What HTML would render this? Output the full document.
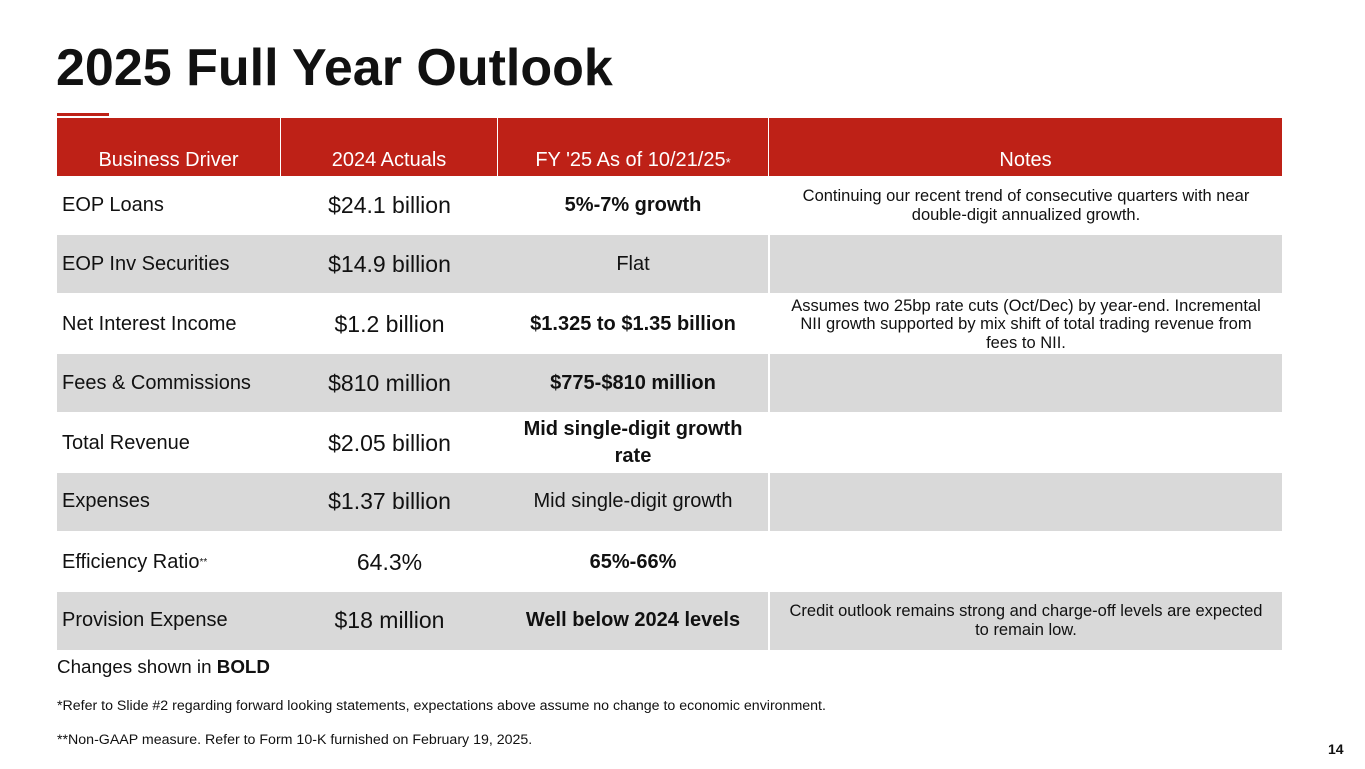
<!DOCTYPE html>
<html><head><meta charset="utf-8"><style>
body{margin:0;width:1365px;height:769px;background:#fff;font-family:"Liberation Sans",sans-serif;position:relative;overflow:hidden;color:#111}
.a{position:absolute;box-sizing:border-box}
.c{position:absolute;box-sizing:border-box;display:flex;align-items:center;text-align:center;justify-content:center}
.h{background:#be2117;color:#fff;font-size:20px;align-items:flex-end;padding-bottom:4px}
</style></head><body>
<div class="a" style="left:56px;top:38px;font-size:52px;font-weight:bold;color:#111">2025 Full Year Outlook</div>
<div class="a" style="left:57px;top:113px;width:52px;height:3px;background:#be2117"></div>
<div id="tbl"></div>
<div class="a" style="left:57px;top:656px;font-size:18.8px">Changes shown in <b>BOLD</b></div>
<div class="a" style="left:57px;top:698px;font-size:14.2px">*Refer to Slide #2 regarding forward looking statements, expectations above assume no change to economic environment.</div>
<div class="a" style="left:57px;top:732px;font-size:14.2px">**Non-GAAP measure. Refer to Form 10-K furnished on February 19, 2025.</div>
<div class="a" style="left:1328px;top:741px;font-size:14px;font-weight:bold">14</div>
<script>
const headers=["Business Driver","2024 Actuals","FY '25 As of 10/21/25<sup style='font-size:13px;position:relative;top:-2px'>*</sup>","Notes"];
const drivers=["EOP Loans","EOP Inv Securities","Net Interest Income","Fees &amp; Commissions","Total Revenue","Expenses","Efficiency Ratio<sup style='font-size:10px'>**</sup>","Provision Expense"];
const actuals=["$24.1 billion","$14.9 billion","$1.2 billion","$810 million","$2.05 billion","$1.37 billion","64.3%","$18 million"];
const outlook=["5%-7% growth","Flat","$1.325 to $1.35 billion","$775-$810 million","Mid single-digit growth rate","Mid single-digit growth","65%-66%","Well below 2024 levels"];
const bold=[1,0,1,1,1,0,1,1];
const notes=["Continuing our recent trend of consecutive quarters with near<br>double-digit annualized growth.","","Assumes two 25bp rate cuts (Oct/Dec) by year-end. Incremental<br>NII growth supported by mix shift of total trading revenue from<br>fees to NII.","","","","","Credit outlook remains strong and charge-off levels are expected<br>to remain low."];
const xs=[57,281,498,769,1282];
const t=document.getElementById('tbl');
function cell(x,y,w,h,html,cls,st,name){const d=document.createElement('div');d.className='c '+cls;d.style.cssText=`left:${x}px;top:${y}px;width:${w}px;height:${h}px;`+st;d.innerHTML=html;


t.appendChild(d);}
for(let i=0;i<4;i++)cell(xs[i],118,xs[i+1]-xs[i]-(i<3?1:0),58,headers[i],'h','','header-'+i);
const rh=59.4;
for(let r=0;r<drivers.length;r++){
 const y=176+r*rh, g=r%2==1;
 const bg=g?'background:#d9d9d9;':'';
 const h=rh-(g?1.5:0);
 cell(57,y,224,h,drivers[r],'',bg+'justify-content:flex-start;padding-left:5px;font-size:20px;','driver-'+r);
 cell(281,y,217,h,actuals[r],'',bg+'font-size:23px;','actual-'+r);
 cell(498,y,270,h,outlook[r],'',bg+'font-size:20px;line-height:27px;padding:0 8px;'+(bold[r]?'font-weight:bold;':''),'outlook-'+r);
 cell(770,y,512,h,notes[r],'',bg+'font-size:16.5px;line-height:18.5px;white-space:nowrap;','notes-'+r);
}
</script>
</body></html>
